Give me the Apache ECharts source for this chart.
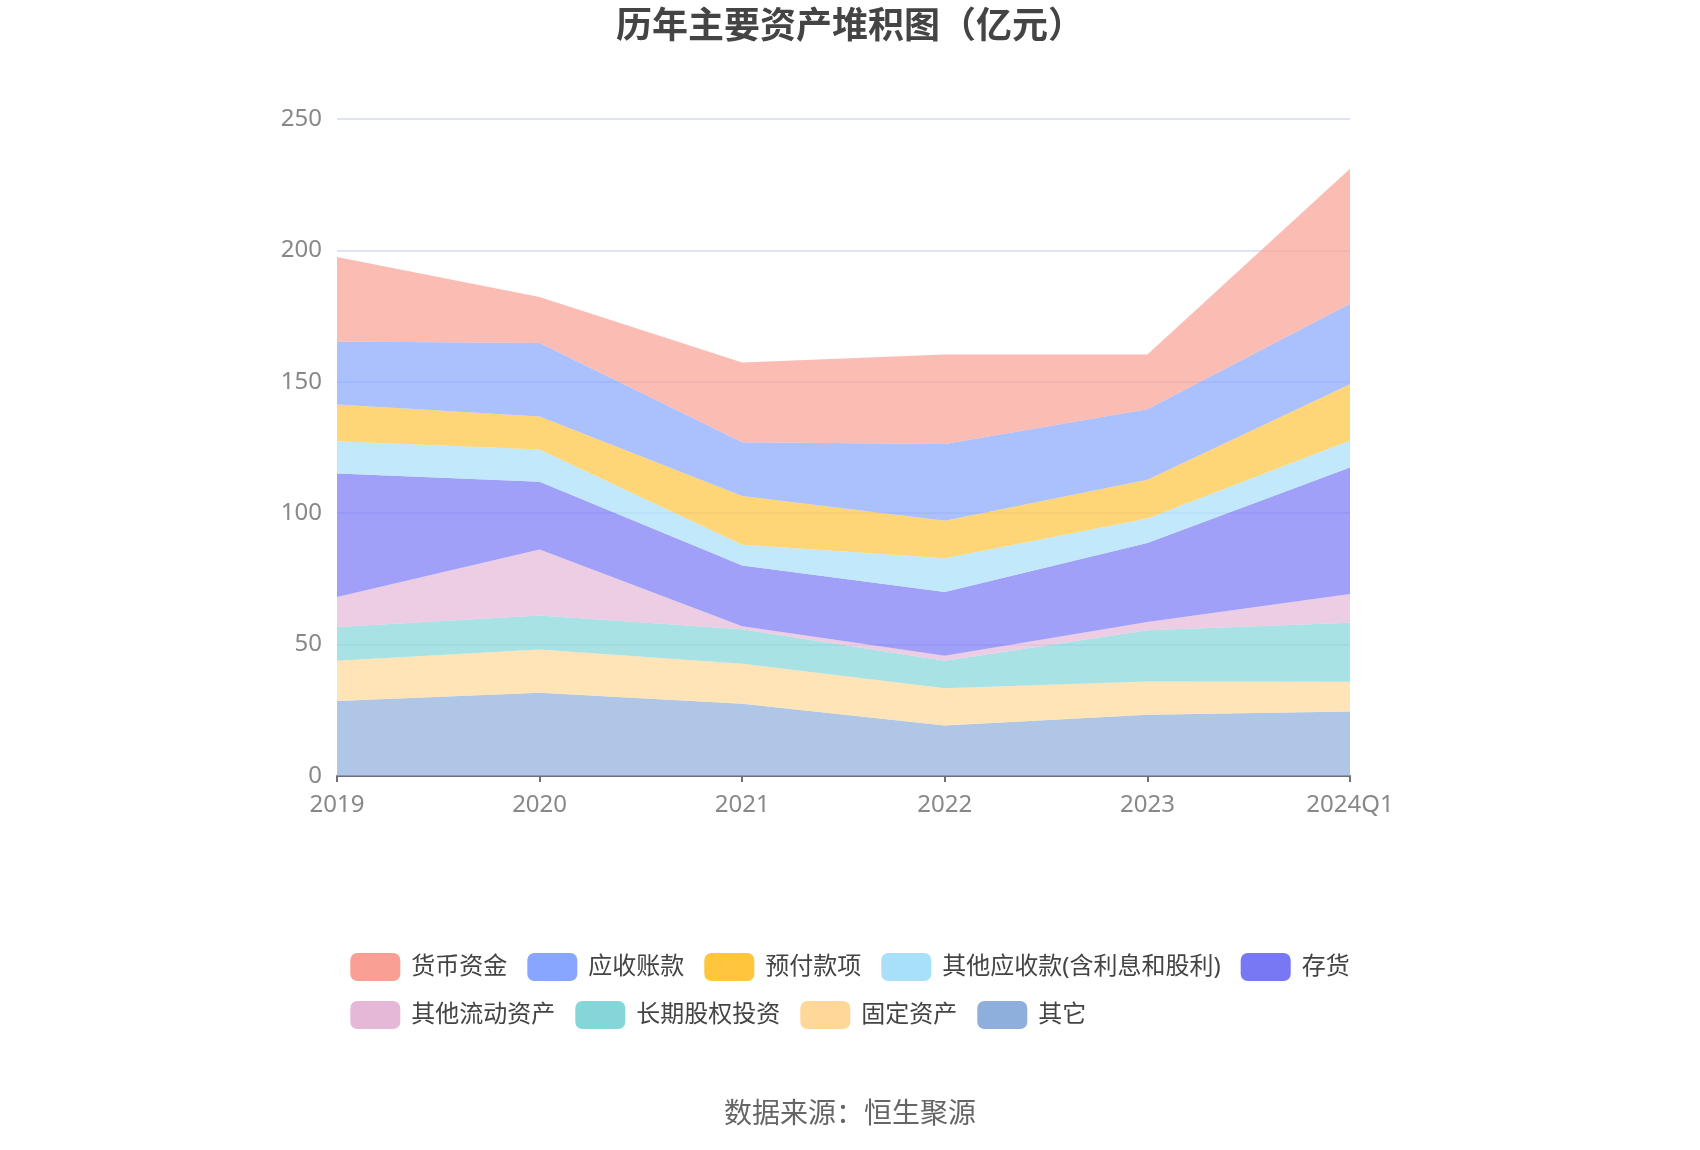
<!DOCTYPE html>
<html>
<head>
<meta charset="utf-8">
<title>历年主要资产堆积图</title>
<script src="https://cdn.jsdelivr.net/npm/echarts@6/dist/echarts.min.js"></script>
<style>
  html, body { margin: 0; padding: 0; background: #fff; }
  #main { width: 1700px; height: 1150px; }
</style>
</head>
<body>
<div id="main"></div>
<script>
// 年份
const years = ["2019", "2020", "2021", "2022", "2023", "2024Q1"];

// 各项资产（亿元），从底部往上堆
const qita = [28.5, 31.7, 27.5, 19.2, 23.3, 24.5];         // 其它
const gudingZichan = [15.4, 16.4, 15.2, 14.2, 12.7, 11.4]; // 固定资产
const changqiGuquan = [12.8, 13.0, 13.1, 10.5, 19.5, 22.4]; // 长期股权投资
const qitaLiudong = [11.4, 25.1, 1.2, 1.9, 3.1, 11.0];     // 其他流动资产
const cunhuo = [47.0, 25.8, 23.1, 24.2, 30.1, 48.1];       // 存货
const qitaYingshou = [12.3, 12.2, 7.9, 12.9, 9.3, 10.3];   // 其他应收款
const yufu = [14.0, 12.6, 18.5, 14.2, 14.7, 21.4];         // 预付款项
const yingshou = [23.9, 28.0, 20.5, 29.2, 26.9, 30.6];     // 应收账款
const huobi = [32.2, 17.5, 30.3, 34.1, 20.8, 51.4];        // 货币资金

const legendNames = ["货币资金", "应收账款", "预付款项", "其他应收款(含利息和股利)", "存货",
  "其他流动资产", "长期股权投资", "固定资产", "其它"];

const yTicks = [0, 50, 100, 150, 200, 250];

const fontFamily = "'Noto Sans', 'Noto Sans CJK SC', sans-serif";

// 系列顺序：第一个在最底层
const layers = [
  { name: "其它", data: qita, color: "#8EAEDB" },
  { name: "固定资产", data: gudingZichan, color: "#FFD899" },
  { name: "长期股权投资", data: changqiGuquan, color: "#85D6D8" },
  { name: "其他流动资产", data: qitaLiudong, color: "#E6B8D8" },
  { name: "存货", data: cunhuo, color: "#7878F5" },
  { name: "其他应收款(含利息和股利)", data: qitaYingshou, color: "#A8E0FA" },
  { name: "预付款项", data: yufu, color: "#FFC53D" },
  { name: "应收账款", data: yingshou, color: "#88A6FE" },
  { name: "货币资金", data: huobi, color: "#FA9F94" },
];

const chart = echarts.init(document.getElementById("main"));

const option = {
  backgroundColor: "#fff",
  animation: false,
  title: {
    text: "历年主要资产堆积图（亿元）",
    left: "center",
    top: 5,
    textStyle: {
      fontSize: 36,
      fontWeight: "bold",
      color: "#444",
      fontFamily: fontFamily,
    },
  },
  legend: {
    data: legendNames,
    left: "center",
    top: 948,
    width: 1040,
    icon: "roundRect",
    itemWidth: 50,
    itemHeight: 28,
    itemGap: 20,
    textStyle: {
      fontSize: 24,
      color: "#444",
      fontFamily: fontFamily,
      padding: [0, 0, 0, 6],
    },
  },
  grid: {
    left: 337,
    right: 350,
    top: 119,
    bottom: 374,
  },
  xAxis: {
    type: "category",
    boundaryGap: false,
    data: years,
    axisLine: { lineStyle: { color: "#6E7079", width: 2 } },
    axisTick: { show: true, length: 6, lineStyle: { color: "#6E7079", width: 2 } },
    axisLabel: {
      fontSize: 24,
      color: "#888",
      margin: 17,
      fontFamily: fontFamily,
    },
  },
  yAxis: {
    type: "value",
    min: yTicks[0],
    max: yTicks[yTicks.length - 1],
    interval: 50,
    axisLine: { show: false },
    axisTick: { show: false },
    splitLine: { lineStyle: { color: "#E0E3F3", width: 2 } },
    axisLabel: {
      fontSize: 24,
      color: "#888",
      margin: 15,
      fontFamily: fontFamily,
    },
  },
  series: layers.map(function (l) {
    return {
      name: l.name,
      type: "line",
      stack: "total",
      data: l.data,
      symbol: "none",
      lineStyle: { width: 0 },
      itemStyle: { color: l.color },
      areaStyle: { color: l.color, opacity: 0.7 },
    };
  }),
  graphic: [
    {
      type: "text",
      left: "center",
      top: 1101,
      style: {
        text: "数据来源：恒生聚源",
        fontSize: 28,
        fill: "#666",
        fontFamily: fontFamily,
      },
    },
  ],
};

chart.setOption(option);
</script>
</body>
</html>
